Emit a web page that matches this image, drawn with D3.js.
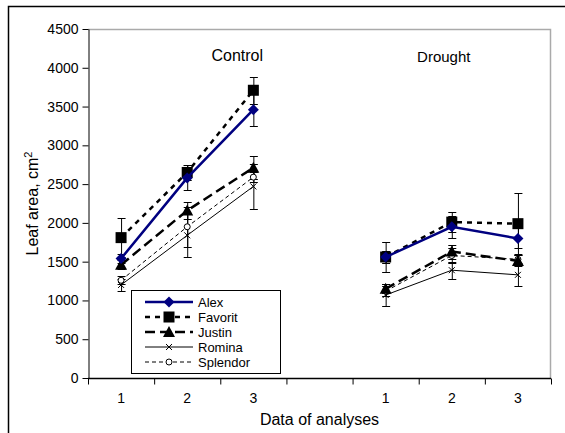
<!DOCTYPE html>
<html>
<head>
<meta charset="utf-8">
<script src="https://cdn.jsdelivr.net/npm/d3@7"></script>
<style>
  body { margin: 0; background: #fff; }
  text { font-family: "Liberation Sans", Arial, sans-serif; }
</style>
</head>
<body>
<div id="container"></div>
<script>
var WIDTH = 565, HEIGHT = 433;
var LEFT = 88, RIGHT = 551, TOP = 29, BOTTOM = 378;

// x slots: 0..2 control, 4..6 drought
var slots = [0, 1, 2, 4, 5, 6];
var tickLabels = ["1", "2", "3", "", "1", "2", "3"];
var groupTitles = ["Control", "Drought"];
var yTicks = [0, 500, 1000, 1500, 2000, 2500, 3000, 3500, 4000, 4500];

var names = ["Alex", "Favorit", "Justin", "Romina", "Splendor"];
var alex = [1540, 2580, 3460, 1560, 1950, 1800];
var alexErr = [60, 160, 210, 80, 140, 130];
var favorit = [1810, 2650, 3710, 1560, 2010, 1990];
var favoritErr = [250, 95, 175, 190, 130, 395];
var justin = [1460, 2160, 2710, 1150, 1630, 1510];
var justinErr = [60, 110, 150, 60, 90, 70];
var romina = [1200, 1840, 2470, 1070, 1390, 1330];
var rominaErr = [80, 280, 290, 140, 110, 150];
var splendor = [1260, 1950, 2590, 1120, 1580, 1530];
var splendorErr = [50, 260, 60, 60, 100, 60];

var styles = {
	Alex: { color: "#000080", width: 2.5, dash: null, marker: "diamond" },
	Favorit: { color: "#000", width: 2.5, dash: "5,5", marker: "square" },
	Justin: { color: "#000", width: 2.5, dash: "10,5", marker: "triangle" },
	Romina: { color: "#000", width: 1, dash: null, marker: "x" },
	Splendor: { color: "#000", width: 1, dash: "4,3", marker: "circle" }
};

var seriesData = [alex, favorit, justin, romina, splendor].map(function(vals, i) {
	var errs = [alexErr, favoritErr, justinErr, rominaErr, splendorErr][i];
	return {
		name: names[i],
		points: vals.map(function(v, j) { return { slot: slots[j], y: v, err: errs[j] }; })
	};
});

var xScale = d3.scaleBand().domain(d3.range(7)).range([LEFT, RIGHT]);
var yScale = d3.scaleLinear().domain([0, 4500]).range([BOTTOM, TOP]);
var cx = function(s) { return xScale(s) + xScale.bandwidth() / 2; };

var svg = d3.select("#container").append("svg")
	.attr("width", WIDTH).attr("height", HEIGHT);

// outer frame (only top and left visible)
svg.append("path").attr("d", "M8.5,433V6.5H565")
	.attr("fill", "none").attr("stroke", "#000").attr("stroke-width", 1.5);

// plot border
svg.append("path").attr("d", "M" + LEFT + "," + (TOP + 0.5) + "H" + (RIGHT - 0.5) + "V" + BOTTOM)
	.attr("fill", "none").attr("stroke", "#aaa").attr("stroke-width", 1.5);

// y axis
var yAxis = svg.append("g").attr("transform", "translate(" + (LEFT + 0.5) + ",0)")
	.call(d3.axisLeft(yScale).tickValues(yTicks).tickFormat(d3.format("d"))
		.tickSize(6).tickSizeOuter(0).tickPadding(4));
yAxis.selectAll("text").style("font-size", "14px").attr("fill", "#000");

// x axis with ticks at slot boundaries
var xAxisG = svg.append("g").attr("transform", "translate(0," + (BOTTOM + 0.5) + ")");
xAxisG.append("line").attr("x1", LEFT).attr("x2", RIGHT).attr("stroke", "#000").attr("stroke-width", 1.5);
xAxisG.selectAll("line.tk").data(d3.range(8)).enter().append("line")
	.attr("class", "tk")
	.attr("x1", function(d) { return LEFT + d * xScale.step() + 0.5; })
	.attr("x2", function(d) { return LEFT + d * xScale.step() + 0.5; })
	.attr("y1", 0).attr("y2", 6).attr("stroke", "#000");
xAxisG.selectAll("text").data(tickLabels).enter().append("text")
	.attr("x", function(d, i) { return cx(i); })
	.attr("y", 24)
	.attr("text-anchor", "middle")
	.style("font-size", "14px")
	.text(function(d) { return d; });

// axis titles
svg.append("text").attr("x", (LEFT + RIGHT) / 2).attr("y", 425)
	.attr("text-anchor", "middle").style("font-size", "16px").text("Data of analyses");
var yl = svg.append("text")
	.attr("transform", "translate(38," + ((TOP + BOTTOM) / 2) + ") rotate(-90)")
	.attr("text-anchor", "middle").style("font-size", "16px");
yl.append("tspan").text("Leaf area, cm");
yl.append("tspan").attr("dy", -6).style("font-size", "11px").text("2");

// group titles
svg.append("text").attr("x", cx(1) + 50).attr("y", 61).attr("text-anchor", "middle")
	.style("font-size", "16px").text(groupTitles[0]);
svg.append("text").attr("x", cx(5) - 8).attr("y", 62).attr("text-anchor", "middle")
	.style("font-size", "15px").text(groupTitles[1]);

function drawMarker(g, type, x, y, color) {
	if (type === "diamond") {
		g.append("path").attr("d", "M" + x + "," + (y - 5.5) + "L" + (x + 5.5) + "," + y + "L" + x + "," + (y + 5.5) + "L" + (x - 5.5) + "," + y + "Z")
			.attr("fill", color);
	} else if (type === "square") {
		g.append("rect").attr("x", x - 5.5).attr("y", y - 5.5).attr("width", 11).attr("height", 11).attr("fill", color);
	} else if (type === "triangle") {
		g.append("path").attr("d", "M" + x + "," + (y - 6) + "L" + (x + 6) + "," + (y + 5) + "L" + (x - 6) + "," + (y + 5) + "Z")
			.attr("fill", color);
	} else if (type === "x") {
		g.append("path").attr("d", "M" + (x - 3) + "," + (y - 3) + "L" + (x + 3) + "," + (y + 3) + "M" + (x + 3) + "," + (y - 3) + "L" + (x - 3) + "," + (y + 3))
			.attr("stroke", color).attr("stroke-width", 1);
	} else if (type === "circle") {
		g.append("circle").attr("cx", x).attr("cy", y).attr("r", 3)
			.attr("fill", "#fff").attr("stroke", color).attr("stroke-width", 1);
	}
}

var line = d3.line().x(function(d) { return cx(d.slot); }).y(function(d) { return yScale(d.y); });

// error bars
var eb = svg.append("g");
seriesData.forEach(function(s) {
	s.points.forEach(function(p) {
		var x = cx(p.slot) + 0.5;
		var y0 = Math.round(yScale(p.y - p.err)) + 0.5, y1 = Math.round(yScale(p.y + p.err)) + 0.5;
		eb.append("path").attr("d", "M" + x + "," + y0 + "V" + y1 + "M" + (x - 4) + "," + y0 + "H" + (x + 4) + "M" + (x - 4) + "," + y1 + "H" + (x + 4))
			.attr("stroke", "#000").attr("stroke-width", 1).attr("fill", "none");
	});
});

// lines and markers, drawn back to front
seriesData.slice().reverse().forEach(function(s) {
	var st = styles[s.name];
	var g = svg.append("g");
	[s.points.slice(0, 3), s.points.slice(3)].forEach(function(seg) {
		g.append("path").attr("d", line(seg))
			.attr("fill", "none").attr("stroke", st.color).attr("stroke-width", st.width)
			.attr("stroke-dasharray", st.dash);
	});
	s.points.forEach(function(p) { drawMarker(g, st.marker, cx(p.slot), yScale(p.y), st.color); });
});

// legend
var lg = svg.append("g").attr("transform", "translate(131,290)");
lg.append("rect").attr("x", 0.5).attr("y", 0.5).attr("width", 149).attr("height", 83)
	.attr("fill", "#fff").attr("stroke", "#000").attr("stroke-width", 1);
names.forEach(function(n, i) {
	var st = styles[n];
	var y = 12 + i * 15;
	lg.append("line").attr("x1", 14).attr("x2", 62).attr("y1", y).attr("y2", y)
		.attr("stroke", st.color).attr("stroke-width", st.width).attr("stroke-dasharray", st.dash);
	drawMarker(lg, st.marker, 38, y, st.color);
	lg.append("text").attr("x", 67).attr("y", y + 4.5).style("font-size", "13px").text(n);
});
</script>
</body>
</html>
